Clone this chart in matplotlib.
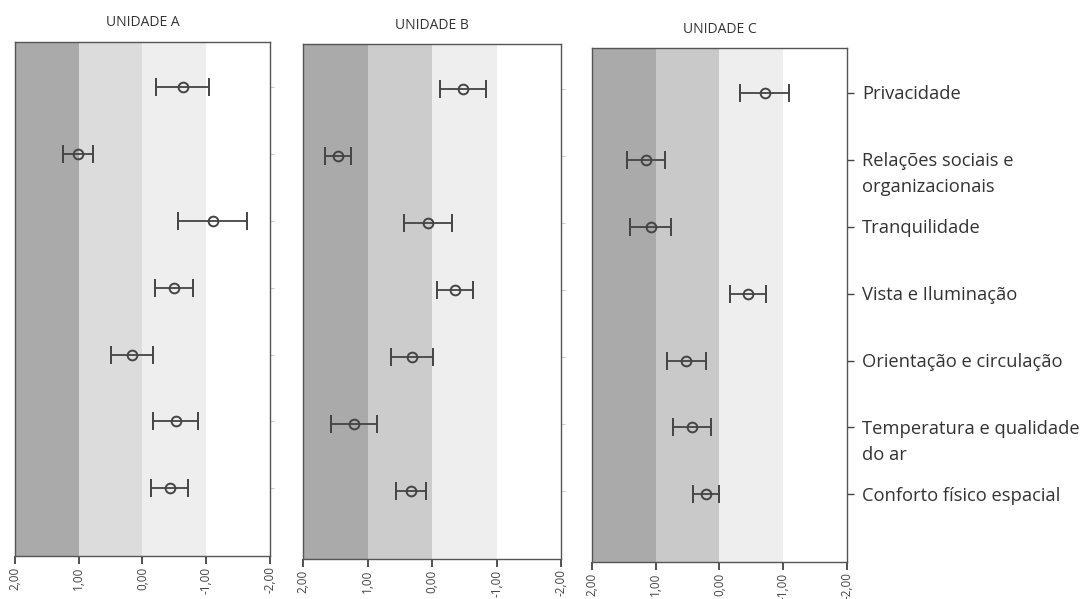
import matplotlib.pyplot as plt
import matplotlib.transforms as mtransforms
import numpy as np

plt.rcParams['font.family'] = ['Open Sans', 'DejaVu Sans']

categorias = ["Privacidade", "Relações sociais e\norganizacionais", "Tranquilidade",
              "Vista e Iluminação", "Orientação e circulação",
              "Temperatura e qualidade\ndo ar", "Conforto físico espacial"]

# medias e meia-largura dos intervalos
media_a = [-0.63, 1.01, -1.10, -0.50, 0.16, -0.52, -0.43]
erro_a = [0.42, 0.24, 0.54, 0.30, 0.33, 0.35, 0.29]
media_b = [-0.48, 1.46, 0.06, -0.36, 0.31, 1.21, 0.33]
erro_b = [0.36, 0.20, 0.37, 0.28, 0.32, 0.35, 0.23]
media_c = [-0.71, 1.15, 1.08, -0.45, 0.52, 0.43, 0.21]
erro_c = [0.38, 0.30, 0.32, 0.28, 0.31, 0.30, 0.20]

unidades = ["UNIDADE A", "UNIDADE B", "UNIDADE C"]
ticks_x = [2, 1, 0, -1, -2]
ticks_lbl = ["2,00", "1,00", "0,00", "-1,00", "-2,00"]

faixas = [(2, 1), (1, 0), (0, -1)]
cores_faixas = [["#aaaaaa", "#dcdcdc", "#eeeeee"],
                ["#aaaaaa", "#cccccc", "#eeeeee"],
                ["#aaaaaa", "#c9c9c9", "#eeeeee"]]

fig = plt.figure(figsize=(10.85, 5.99), dpi=100)
# posicoes ligeiramente desalinhadas como na figura original (digitalizada)
posicoes = [[0.0138, 0.0718, 0.2350, 0.8580],
            [0.2793, 0.0668, 0.2378, 0.8597],
            [0.5456, 0.0618, 0.2350, 0.8581]]
title_y = [0.963, 0.958, 0.951]

y = np.arange(1, len(categorias) + 1)
dados = [(media_a, erro_a), (media_b, erro_b), (media_c, erro_c)]

for i, (media, erro) in enumerate(dados):
    ax = fig.add_axes(posicoes[i])
    for (x0, x1), cor in zip(faixas, cores_faixas[i]):
        ax.axvspan(x1, x0, color=cor, lw=0, zorder=0)
    ax.errorbar(media, y, xerr=erro, fmt='o', color='#444444', ecolor='#444444',
                elinewidth=1.3, capsize=6.5, capthick=1.3, markersize=7,
                markerfacecolor='none', markeredgewidth=1.4, zorder=3)
    ax.set_xlim(2, -2)
    ax.set_ylim(8.01, 0.33)
    ax.set_xticks(ticks_x)
    ax.set_xticklabels(ticks_lbl, rotation=90, fontsize=8.5, color='#444444')
    ax.tick_params(axis='x', direction='out', length=6, width=1.2, color='#333333', pad=1.5)
    ax.yaxis.tick_right()
    ax.set_yticks(y)
    ax.set_yticklabels([])
    if i < 2:
        ax.tick_params(axis='y', direction='out', length=3, width=0.8, color='#cccccc')
    else:
        ax.tick_params(axis='y', direction='out', length=5, width=1.0, color='#444444')
    for s in ax.spines.values():
        s.set_color('#555555')
        s.set_linewidth(1.0)
    fig.text(posicoes[i][0] + posicoes[i][2] / 2, title_y[i], unidades[i],
             ha='center', va='center', fontsize=10, color='#333333')

    if i == 2:
        fs = 13.2
        base = mtransforms.blended_transform_factory(ax.transAxes, ax.transData)
        for yy, cat in zip(y, categorias):
            # primeira linha alinhada ao tick, as seguintes logo abaixo
            for k, linha in enumerate(cat.split("\n")):
                dy = -0.36 * fs - k * 1.42 * fs
                off = mtransforms.ScaledTranslation(11 / 72, dy / 72, fig.dpi_scale_trans)
                ax.text(1.0, yy, linha, transform=base + off, ha='left', va='baseline',
                        fontsize=fs, color='#333333')

fig.savefig("out.png", dpi=100)
